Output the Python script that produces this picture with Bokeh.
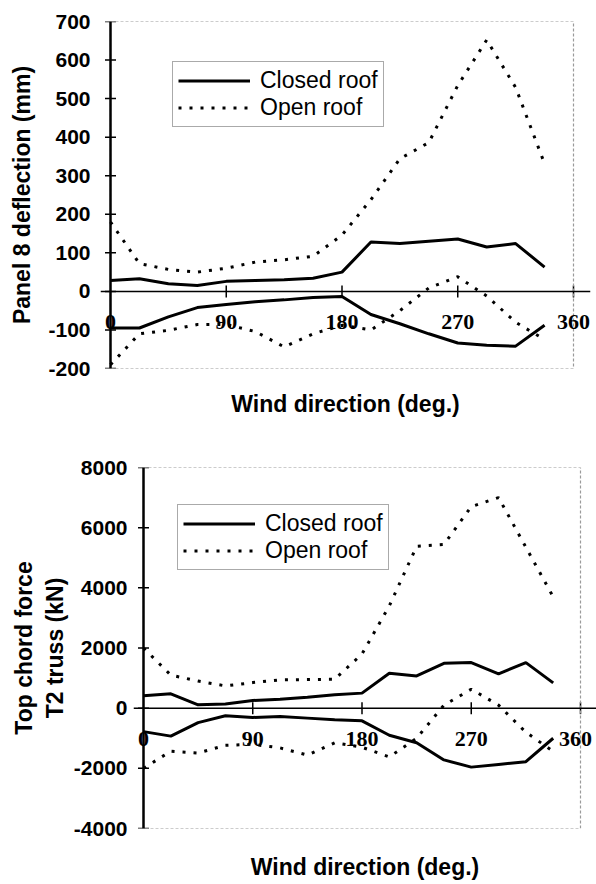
import math
from bokeh.plotting import figure
from bokeh.models import (Range1d, FixedTicker, Span, LabelSet, ColumnDataSource,
                          Legend, LegendItem, BoxAnnotation)
from bokeh.embed import file_html
from bokeh.resources import INLINE

# ---------------- data ----------------
directions = [0, 22.5, 45, 67.5, 90, 112.5, 135, 157.5, 180, 202.5, 225, 247.5, 270, 292.5, 315, 337.5]

# Panel 8 deflection (mm)
defl_closed_max = [28, 33, 20, 15, 26, 28, 30, 34, 50, 128, 124, 130, 136, 115, 124, 63]
defl_closed_min = [-95, -95, -66, -42, -34, -27, -22, -16, -13, -60, -84, -110, -134, -140, -142, -88]
defl_open_max = [180, 72, 57, 50, 60, 76, 82, 91, 146, 238, 344, 386, 534, 652, 529, 331]
defl_open_min = [-190, -110, -101, -86, -86, -104, -144, -110, -88, -100, -50, 9, 38, -12, -80, -125]

# Top chord force T2 truss (kN)
force_closed_max = [410, 476, 110, 140, 255, 300, 365, 443, 500, 1160, 1073, 1490, 1515, 1139, 1515, 840]
force_closed_min = [-780, -930, -480, -252, -308, -275, -331, -386, -420, -900, -1150, -1720, -1960, -1870, -1780, -1000]
force_open_max = [2000, 1100, 900, 740, 850, 940, 950, 960, 1800, 3400, 5380, 5440, 6700, 7000, 5350, 3700]
force_open_min = [-2000, -1430, -1490, -1235, -1200, -1320, -1560, -1150, -1300, -1620, -1000, 100, 630, 100, -800, -1434]

x_ticks = [90, 180, 270, 360]
x_tick_labels = ["0", "90", "180", "270", "360"]
x_label_pos = [0, 90, 180, 270, 360]
x_extent = (0, 360)

defl_ticks = [-200, -100, 0, 100, 200, 300, 400, 500, 600, 700]
defl_tick_labels = ["-200", "-100", "0", "100", "200", "300", "400", "500", "600", "700"]
force_ticks = [-4000, -2000, 0, 2000, 4000, 6000, 8000]
force_tick_labels = ["-4000", "-2000", "0", "2000", "4000", "6000", "8000"]

FONT = "Liberation Sans"


def make_panel(width, height, frame_left, axis_px, end_px, min_right, min_top, min_bottom,
               yr, yticks, ylabels, ylabel, closed_max, closed_min, open_max, open_min,
               legend_loc, label_standoff, ylab_standoff, xlab_standoff, last_nudge):
    # layout geometry: the y axis (x = 0) sits a little inside the frame
    frame_w = width - frame_left - min_right
    scale = (end_px - axis_px) / (x_extent[1] - x_extent[0])
    x_lo = x_extent[0] - (axis_px - frame_left) / scale
    x_hi = x_lo + frame_w / scale

    p = figure(width=width, height=height, x_range=Range1d(x_lo, x_hi), y_range=Range1d(*yr),
               output_backend="svg", toolbar_location=None,
               min_border_left=frame_left, min_border_right=min_right,
               min_border_top=min_top, min_border_bottom=min_bottom)
    p.grid.visible = False
    p.background_fill_color = "white"
    p.border_fill_color = "white"
    p.outline_line_color = None

    # faint plot-area box
    p.add_layout(BoxAnnotation(left=x_extent[0], right=x_extent[1], bottom=yr[0], top=yr[1],
                               fill_alpha=0, fill_color=None, line_color="#9a9a9a",
                               line_alpha=1, line_width=1.2, line_dash="3 2"))

    # y axis: labels from the real axis, line and ticks at x = 0
    ya = p.yaxis[0]
    ya.ticker = FixedTicker(ticks=yticks)
    ya.major_label_overrides = {t: s for t, s in zip(yticks, ylabels)}
    ya.axis_line_color = None
    ya.major_tick_line_color = None
    ya.minor_tick_line_color = None
    ya.major_tick_out = 0
    ya.major_tick_in = 0
    ya.major_label_text_font = FONT
    ya.major_label_text_font_style = "bold"
    ya.major_label_text_font_size = "21px"
    ya.major_label_text_color = "black"
    ya.major_label_standoff = label_standoff
    ya.axis_label = ylabel
    ya.axis_label_text_font = FONT
    ya.axis_label_text_font_style = "bold"
    ya.axis_label_text_font_size = "23px"
    ya.axis_label_text_color = "black"
    ya.axis_label_standoff = ylab_standoff

    p.add_layout(Span(location=0, dimension="height", line_color="black", line_width=2.5))
    p.scatter(x=[0] * len(yticks), y=yticks, marker="dash", size=11,
              line_color="black", line_width=1.5)

    # x axis: only its title below
    xa = p.xaxis[0]
    xa.ticker = FixedTicker(ticks=[])
    xa.axis_line_color = None
    xa.major_tick_line_color = None
    xa.minor_tick_line_color = None
    xa.axis_label = "Wind direction (deg.)"
    xa.axis_label_text_font = FONT
    xa.axis_label_text_font_style = "bold"
    xa.axis_label_text_font_size = "23px"
    xa.axis_label_text_color = "black"
    xa.axis_label_standoff = xlab_standoff

    # zero line with direction ticks and labels
    p.add_layout(Span(location=0, dimension="width", line_color="black", line_width=1.5))
    p.scatter(x=x_ticks, y=[0] * len(x_ticks), marker="dash", angle=math.pi / 2, size=12,
              line_color="black", line_width=1.5)
    nudges = [0] * (len(x_label_pos) - 1) + [last_nudge]
    src = ColumnDataSource(dict(x=x_label_pos, y=[0] * len(x_label_pos), t=x_tick_labels,
                                dx=nudges))
    p.add_layout(LabelSet(x="x", y="y", text="t", source=src, y_offset=-31, x_offset="dx",
                          text_align="center", text_baseline="middle",
                          text_font=FONT, text_font_style="bold", text_font_size="22px",
                          text_color="black"))

    r1 = p.line(directions, closed_max, line_color="black", line_width=3)
    p.line(directions, closed_min, line_color="black", line_width=3)
    r2 = p.line(directions, open_max, line_color="black", line_width=3, line_dash="3 8")
    p.line(directions, open_min, line_color="black", line_width=3, line_dash="3 8")

    leg = Legend(items=[LegendItem(label="Closed roof", renderers=[r1]),
                        LegendItem(label="Open roof", renderers=[r2])],
                 location=legend_loc)
    leg.label_text_font = FONT
    leg.label_text_font_size = "23px"
    leg.label_text_color = "black"
    leg.label_height = 25
    leg.glyph_width = 72
    leg.glyph_height = 25
    leg.label_standoff = 10
    leg.padding = 5
    leg.spacing = 0
    leg.margin = 0
    leg.border_line_color = "#555555"
    leg.border_line_width = 1.5
    leg.background_fill_color = "white"
    leg.background_fill_alpha = 1
    p.add_layout(leg)
    return p


p1 = make_panel(592, 430, 100, 110, 573, 2, 21, 62, (-200, 700), defl_ticks, defl_tick_labels,
                "Panel 8 deflection (mm)", defl_closed_max, defl_closed_min,
                defl_open_max, defl_open_min, (72, 241), 10, 10, 22, 0)
p2 = make_panel(596, 452, 133, 143, 580, 0, 37, 52, (-4000, 8000), force_ticks, force_tick_labels,
                "Top chord force\nT2 truss (kN)", force_closed_max, force_closed_min,
                force_open_max, force_open_min, (44, 258), 6, 3, 25, -5)

open("out.html", "w").write(file_html([p1, p2], INLINE))
